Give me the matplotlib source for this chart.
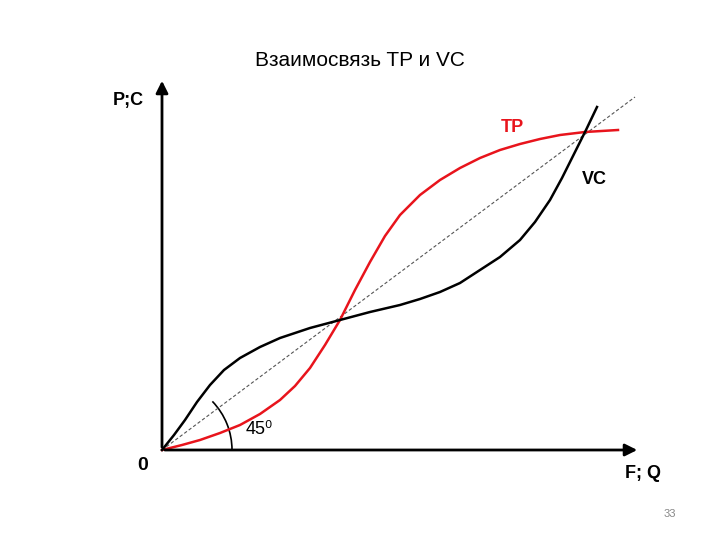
import matplotlib
matplotlib.use("Agg")
import matplotlib.pyplot as plt
from matplotlib.patches import Arc

plt.rcParams['font.family'] = ['Liberation Sans', 'DejaVu Sans']

# Data in units relative to the origin (x right, y up)
tp_x = [0, 20, 38, 58, 78, 98, 118, 133, 148, 163, 178, 193, 208, 223, 238, 258, 278, 298, 318, 338, 358, 378, 398, 423, 456]
tp_y = [0, 5, 10, 17, 25, 36, 50, 64, 82, 105, 130, 160, 188, 214, 235, 255, 270, 282, 292, 300, 306, 311, 315, 318, 320]
vc_x = [0, 12, 23, 35, 48, 62, 78, 98, 118, 148, 178, 208, 238, 258, 278, 298, 318, 338, 358, 373, 388, 400, 413, 424, 435]
vc_y = [0, 15, 30, 48, 65, 80, 92, 103, 112, 122, 130, 138, 145, 151, 158, 167, 180, 193, 210, 228, 250, 272, 298, 320, 343]
diag_x = [0, 473]
diag_y = [0, 353]

fig = plt.figure(figsize=(7.2, 5.4), dpi=100)
ax = fig.add_axes([0, 0, 1, 1])
ax.set_xlim(-162, 558)
ax.set_ylim(-90, 450)
ax.axis('off')

ax.annotate('', xy=(478, 0), xytext=(0, 0),
            arrowprops=dict(arrowstyle='-|>', color='black', lw=2, mutation_scale=18))
ax.annotate('', xy=(0, 372), xytext=(0, 0),
            arrowprops=dict(arrowstyle='-|>', color='black', lw=2, mutation_scale=18))
ax.plot(diag_x, diag_y, color='#555555', lw=0.8, ls=(0, (3, 2)))
ax.plot(tp_x, tp_y, color='#e8141c', lw=1.8, solid_joinstyle='round')
ax.plot(vc_x, vc_y, color='black', lw=1.8, solid_joinstyle='round')
ax.add_patch(Arc((0, 0), 140, 140, theta1=0, theta2=44, color='black', lw=1.2))

ax.text(198, 390, 'Взаимосвязь TP и VC', fontsize=15, ha='center', va='center')
ax.text(-34, 350, 'P;C', fontsize=13, fontweight='bold', ha='center', va='center')
ax.text(350, 322, 'TP', fontsize=13, fontweight='bold', color='#e8141c', ha='center', va='center')
ax.text(432, 270, 'VC', fontsize=13, fontweight='bold', ha='center', va='center')
ax.text(-19, -16, '0', fontsize=14, fontweight='bold', ha='center', va='center')
ax.text(481, -23, 'F; Q', fontsize=13, fontweight='bold', ha='center', va='center')
ax.text(84, 20, '45⁰', fontsize=13, ha='left', va='center')
ax.text(508, -64, '33', fontsize=8, color='#888888', ha='center', va='center')

fig.savefig('out.png', dpi=100)
